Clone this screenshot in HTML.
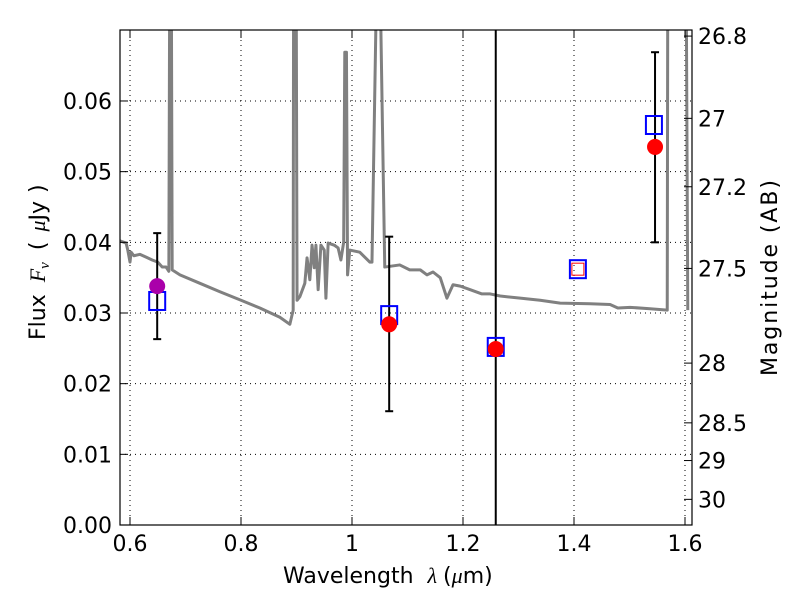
<!DOCTYPE html>
<html><head><meta charset="utf-8"><style>
body{margin:0;background:#fff;width:800px;height:600px;overflow:hidden}
svg text{font-family:"DejaVu Sans","Liberation Sans",sans-serif;fill:#000}
</style></head><body>
<svg id="chart" width="800" height="600" xmlns="http://www.w3.org/2000/svg">
<defs><clipPath id="pc"><rect x="120" y="30" width="572" height="495"/></clipPath></defs>
<rect x="0" y="0" width="800" height="600" fill="#fff"/>
<g id="grid"></g>
<g id="spec" clip-path="url(#pc)"></g>
<g id="marks" clip-path="url(#pc)"></g>
<rect x="120" y="30" width="572" height="495" fill="none" stroke="#000" stroke-width="1.2"/>
<g id="axes"></g>
<text x="283" y="583" font-size="22">Wavelength<tspan dx="14" font-family="Liberation Serif" font-style="italic">λ</tspan><tspan dx="6">(</tspan><tspan font-family="Liberation Serif" font-style="italic">μ</tspan>m)</text>
<text transform="translate(45,340) rotate(-90)" font-size="22">Flux<tspan dx="12" font-family="Liberation Serif" font-style="italic">F<tspan font-size="15" dy="4">ν</tspan></tspan><tspan dy="-4" dx="12">(</tspan><tspan dx="10" font-family="Liberation Serif" font-style="italic">μ</tspan>Jy<tspan dx="8">)</tspan></text>
<text transform="translate(777,376) rotate(-90)" font-size="22" textLength="196" lengthAdjust="spacing">Magnitude (AB)</text>
</svg>
<script>
const xTicks=[0.6,0.8,1.0,1.2,1.4,1.6];
const xTickLabels=["0.6","0.8","1","1.2","1.4","1.6"];
const yTicks=[0,0.01,0.02,0.03,0.04,0.05,0.06];
const yTickLabels=["0.00","0.01","0.02","0.03","0.04","0.05","0.06"];
const magTicks=[26.8,27,27.2,27.5,28,28.5,29,30];
const magTickLabels=["26.8","27","27.2","27.5","28","28.5","29","30"];
const specWave=[0.582,0.593,0.596,0.600,0.602,0.607,0.618,0.629,0.640,0.650,0.658,0.665,0.670,0.672,0.674,0.676,0.690,0.726,0.762,0.800,0.834,0.870,0.888,0.894,0.895,0.899,0.901,0.906,0.915,0.919,0.924,0.928,0.932,0.935,0.939,0.944,0.950,0.953,0.957,0.968,0.975,0.980,0.985,0.987,0.990,0.992,0.996,1.014,1.032,1.036,1.045,1.050,1.059,1.086,1.104,1.123,1.135,1.146,1.159,1.171,1.182,1.195,1.213,1.234,1.249,1.267,1.303,1.339,1.375,1.429,1.465,1.479,1.501,1.537,1.568,1.569,1.602,1.605];
const specFlux=[0.0402,0.0399,0.0389,0.0372,0.0386,0.0381,0.0383,0.0379,0.0375,0.0372,0.0365,0.0365,0.0359,0.09,0.09,0.0361,0.0354,0.0342,0.0330,0.0318,0.0307,0.0294,0.0284,0.0304,0.09,0.09,0.0318,0.0323,0.0342,0.0378,0.0347,0.0396,0.0364,0.0396,0.0333,0.0396,0.0389,0.0321,0.0399,0.0396,0.0392,0.0375,0.0400,0.0669,0.0669,0.0354,0.0389,0.0386,0.0372,0.0372,0.08,0.08,0.0365,0.0368,0.0361,0.0361,0.0354,0.0358,0.0350,0.0321,0.0340,0.0338,0.0333,0.0327,0.0327,0.0324,0.0321,0.0318,0.0314,0.0313,0.0312,0.0307,0.0308,0.0306,0.0304,0.08,0.08,0.0304];
const obsWave=[0.649,1.067,1.259,1.546];
const obsFlux=[0.0338,0.0284,0.0249,0.0535];
const obsErrLo=[0.0263,0.0161,0.0249,0.0400];
const obsErrHi=[0.0413,0.0408,0.0249,0.0669];
const modelWave=[0.649,1.067,1.259,1.407,1.544];
const modelFlux=[0.0317,0.0297,0.0252,0.0362,0.0566];
const lineWave=[1.259];
const NS="http://www.w3.org/2000/svg";
const X=v=>130+(v-0.6)*555, Y=v=>525-v*7067;
const M=m=>Y(Math.pow(10,(23.9-m)/2.5));
function mk(p,t,a){const e=document.createElementNS(NS,t);for(const k in a)e.setAttribute(k,a[k]);p.appendChild(e);return e;}
const grid=document.getElementById('grid'),axes=document.getElementById('axes');
xTicks.forEach((t,i)=>{
 const g=mk(grid,'line',{x1:X(t),x2:X(t),y1:30,y2:525,stroke:'#000','stroke-width':1,'stroke-dasharray':'1,4'});
 
 const tk=mk(axes,'line',{x1:X(t),x2:X(t),y1:525,y2:517,stroke:'#000'});
 
 const tk2=mk(axes,'line',{x1:X(t),x2:X(t),y1:30,y2:38,stroke:'#000'});
 
 const l=mk(axes,'text',{x:X(t),y:551,'font-size':22,'text-anchor':'middle'});l.textContent=xTickLabels[i];
 
});
yTicks.forEach((t,i)=>{
 const g=mk(grid,'line',{x1:120,x2:692,y1:Y(t),y2:Y(t),stroke:'#000','stroke-width':1,'stroke-dasharray':'1,4'});
 
 const tk=mk(axes,'line',{x1:120,x2:128,y1:Y(t),y2:Y(t),stroke:'#000'});
 
 const l=mk(axes,'text',{x:112,y:Y(t)+8,'font-size':22,'text-anchor':'end'});l.textContent=yTickLabels[i];
 
});
magTicks.forEach((m,i)=>{
 const tk=mk(axes,'line',{x1:684,x2:692,y1:M(m),y2:M(m),stroke:'#000'});
 
 const l=mk(axes,'text',{x:698,y:M(m)+8,'font-size':22});l.textContent=magTickLabels[i];
 
});
const spec=document.getElementById('spec');
const pl=mk(spec,'polyline',{points:specWave.map((w,i)=>X(w)+','+Y(specFlux[i])).join(' '),fill:'none',stroke:'#808080','stroke-width':3,'stroke-linejoin':'round'});

const marks=document.getElementById('marks');
lineWave.forEach(w=>{
 const v=mk(marks,'line',{x1:X(w),x2:X(w),y1:30,y2:525,stroke:'#000','stroke-width':2});
 
});
obsWave.forEach((w,i)=>{
 if(obsErrHi[i]!==obsErrLo[i]){
  const e=mk(marks,'g',{stroke:'#000','stroke-width':2});
  
  mk(e,'line',{x1:X(w),x2:X(w),y1:Y(obsErrHi[i]),y2:Y(obsErrLo[i])});
  mk(e,'line',{x1:X(w)-4,x2:X(w)+4,y1:Y(obsErrHi[i]),y2:Y(obsErrHi[i])});
  mk(e,'line',{x1:X(w)-4,x2:X(w)+4,y1:Y(obsErrLo[i]),y2:Y(obsErrLo[i])});
 }
});
modelWave.forEach((w,i)=>{
 const s=mk(marks,'rect',{x:X(w)-8,y:Y(modelFlux[i])-9,width:16,height:18,fill:'none',stroke:'#0000ff','stroke-width':2});
 
});
const r=mk(marks,'rect',{x:X(modelWave[3])-6,y:Y(modelFlux[3])-6,width:12,height:12,fill:'none',stroke:'#ff0000','stroke-width':1});

obsWave.forEach((w,i)=>{
 const c=mk(marks,'circle',{cx:X(w),cy:Y(obsFlux[i]),r:8,fill:i===0?'#aa00aa':'#ff0000'});
 
});
</script>
</body></html>
